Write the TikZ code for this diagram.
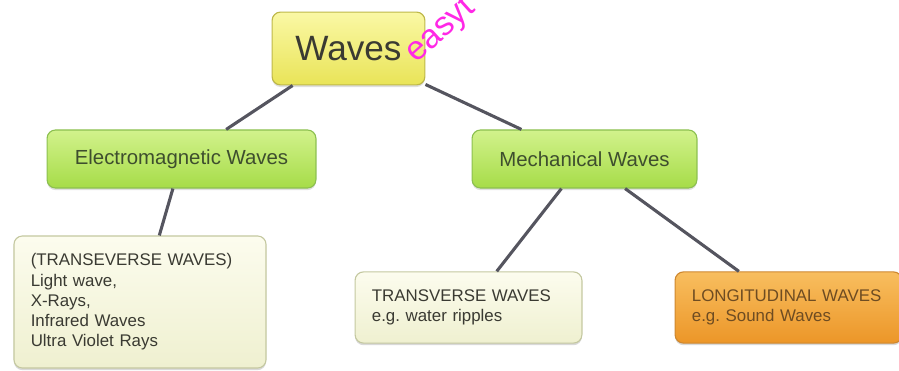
\documentclass[tikz,border=0pt]{standalone}
\usepackage{fontspec}
\setmainfont{Liberation Sans}
\usetikzlibrary{shadows}
\definecolor{TopYellow}{RGB}{250,248,165}
\definecolor{LowYellow}{RGB}{233,228,88}
\definecolor{EdgeYellow}{RGB}{190,184,74}
\definecolor{TopGreen}{RGB}{210,242,140}
\definecolor{LowGreen}{RGB}{166,220,72}
\definecolor{EdgeGreen}{RGB}{140,192,80}
\definecolor{TopCream}{RGB}{252,252,238}
\definecolor{LowCream}{RGB}{239,240,208}
\definecolor{EdgeCream}{RGB}{196,200,160}
\definecolor{TopOrange}{RGB}{248,190,95}
\definecolor{LowOrange}{RGB}{236,150,40}
\definecolor{EdgeOrange}{RGB}{206,136,48}
\definecolor{LinkGray}{RGB}{85,85,95}
\definecolor{InkDark}{RGB}{58,58,50}
\definecolor{InkGreen}{RGB}{62,78,46}
\definecolor{InkBrown}{RGB}{110,76,34}
\definecolor{Mark}{RGB}{255,40,230}
\tikzset{
  root/.style={draw=EdgeYellow,rounded corners=6pt,top color=TopYellow,
    bottom color=LowYellow,thick,minimum width=3.82cm,minimum height=1.82cm,
    font=\fontsize{25}{28}\selectfont,text=InkDark,
    drop shadow={shadow xshift=0pt,shadow yshift=-1.5pt,opacity=0.25}},
  branch/.style={draw=EdgeGreen,rounded corners=6pt,top color=TopGreen,
    bottom color=LowGreen,thick,minimum height=1.45cm,
    font=\fontsize{14.5}{17}\selectfont,text=InkGreen,
    drop shadow={shadow xshift=0pt,shadow yshift=-1.5pt,opacity=0.25}},
  leaf/.style={draw=EdgeCream,rounded corners=6pt,top color=TopCream,
    bottom color=LowCream,thick,align=left,inner xsep=0.42cm,
    font=\fontsize{12}{14.4}\selectfont,text=InkDark,
    drop shadow={shadow xshift=0pt,shadow yshift=-1.5pt,opacity=0.3}},
  hotleaf/.style={leaf,draw=EdgeOrange,top color=TopOrange,
    bottom color=LowOrange,text=InkBrown},
  link/.style={line width=2.2pt,LinkGray}
}
\begin{document}
\begin{tikzpicture}[x=0.025cm,y=-0.025cm]
  \useasboundingbox (0,0) rectangle (899,370);
  \clip (0,0) rectangle (899,370);
  % top concept
  \node[root] (waves) at (348.5,48.5) {Waves};
  % two kinds
  \node[branch,minimum width=6.72cm] (em) at (181.5,159) {Electromagnetic Waves};
  \node[branch,minimum width=5.62cm] (mech) at (584.5,159) {Mechanical Waves};
  % examples
  \node[leaf,text width=5.46cm,minimum height=3.3cm] (emlist) at (140,302)
    {(TRANSEVERSE WAVES)\\Light wave,\\X-Rays,\\Infrared Waves\\Ultra Violet Rays};
  \node[leaf,text width=4.83cm,minimum height=1.78cm] (trans) at (468.5,307.5)
    {TRANSVERSE WAVES\\e.g.\ water ripples};
  \node[hotleaf,text width=4.83cm,minimum height=1.78cm] (longi) at (788.5,307.5)
    {LONGITUDINAL WAVES\\e.g.\ Sound Waves};
  \draw[link] (waves) -- (em);
  \draw[link] (waves) -- (mech);
  \draw[link] (em) -- (emlist);
  \draw[link] (mech) -- (trans);
  \draw[link] (mech) -- (longi);
  % watermark
  \node[anchor=base west,rotate=42,inner sep=0pt,text=Mark,
    font=\fontsize{24}{24}\selectfont] (mark) at (416,64) {easyt};
\end{tikzpicture}
\end{document}
